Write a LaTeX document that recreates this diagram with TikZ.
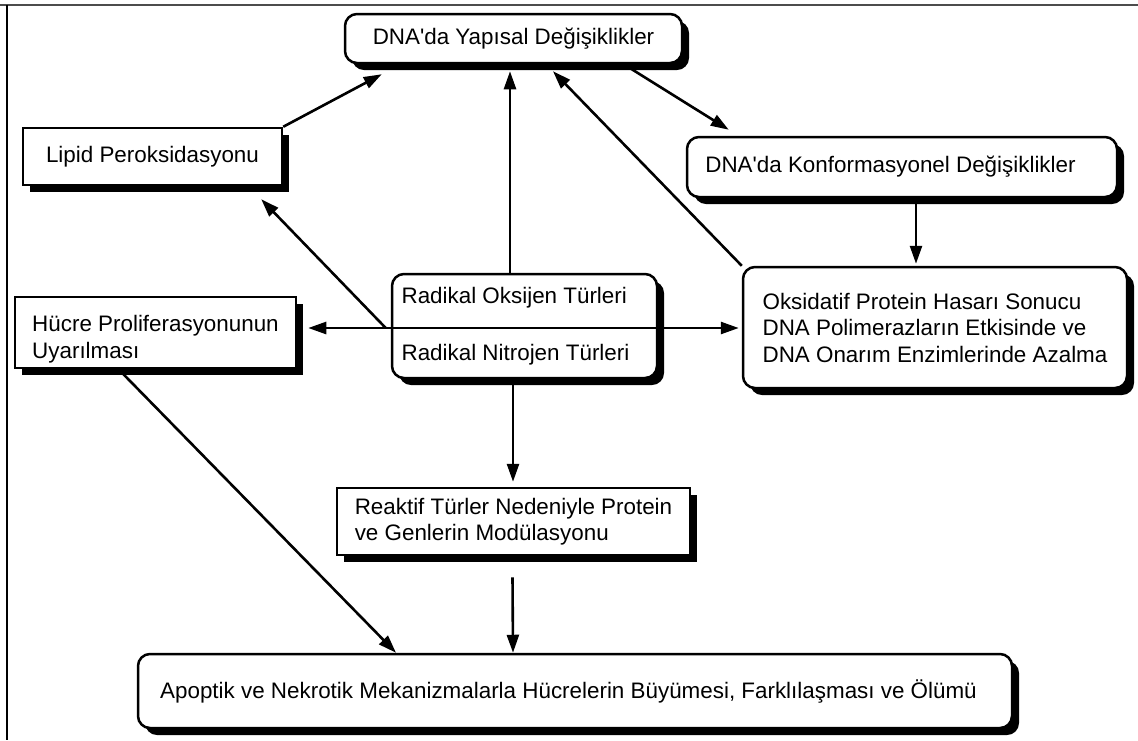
\documentclass[tikz,border=0pt]{standalone}
\usepackage{fontspec}
\setmainfont{Liberation Sans}[Ligatures=TeXOff]
\usetikzlibrary{shadows,arrows.meta,calc}
\begin{document}
\begin{tikzpicture}[x=1pt,y=-1pt,
  every node/.style={font=\fontsize{22.4}{26.5}\selectfont, inner sep=0pt},
  bx/.style={draw=black, line width=2.5pt, fill=white,
    drop shadow={shadow xshift=7pt, shadow yshift=-7pt, opacity=1, fill=black}},
  rbx/.style={bx, rounded corners=12pt},
  tip/.tip={Triangle[length=18pt,width=12pt]},
  conn/.style={line width=2.6pt, -tip},
  bothconn/.style={line width=2.6pt, tip-tip},
]
\useasboundingbox (0,0) rectangle (1138,740);
% frame
\draw[line width=2pt, black!70] (0,5) -- (1138,5);
\draw[line width=1.5pt] (7,5) -- (7,740);

% boxes
\node[rbx, minimum width=337pt, minimum height=49pt] (A) at (513.5,38.5) {DNA'da Yapısal Değişiklikler};
\node[bx, minimum width=259pt, minimum height=57pt] (B) at (152.5,156.5) {Lipid Peroksidasyonu};
\node[rbx, minimum width=430pt, minimum height=60pt] (C) at (902,167) {\kern-23pt DNA'da Konformasyonel Değişiklikler};
\node[rbx, minimum width=265pt, minimum height=104pt, align=left] (D) at (524.5,326) {\kern-18pt Radikal Oksijen Türleri\\[30pt]\kern-18pt Radikal Nitrojen Türleri};
\node[bx, minimum width=281pt, minimum height=71pt, align=left] (E) at (155.5,332.5) {\rule{0pt}{30pt}Hücre Proliferasyonunun\\Uyarılması};
\node[rbx, minimum width=384pt, minimum height=121pt, align=left] (F) at (935,327.5) {Oksidatif Protein Hasarı Sonucu\\DNA Polimerazların Etkisinde ve\\DNA Onarım Enzimlerinde Azalma};
\node[bx, minimum width=353pt, minimum height=67pt, align=left] (G) at (513.5,521.5) {Reaktif Türler Nedeniyle Protein\\ve Genlerin Modülasyonu};
\node[rbx, minimum width=874pt, minimum height=74pt] (H) at (575,691) {\kern-13pt Apoptik ve Nekrotik Mekanizmalarla Hücrelerin Büyümesi, Farklılaşması ve Ölümü};

% connectors
\draw[conn] (B.north east) -- ($(A.south west)+(38,10)$);
\draw[conn] ($(D.north)+(-14.5,0)$) -- ($(A.south)+(-3.5,7)$);
\draw[conn] (F.north west) -- ($(A.south)+(39.5,7)$);
\draw[conn] ($(A.south)+(113.5,2)$) -- ($(C.north west)+(43,-6)$);
\draw[conn] ($(C.south)+(14,0)$) -- ($(F.north)+(-19,-2)$);
\draw[conn] ($(D.west)+(-5,2)$) -- ($(B.south east)+(-22,13)$);
\draw[bothconn] ($(E.east)+(11,-4.5)$) -- ($(F.west)+(-3,0.5)$);
\draw[conn] ($(D.south)+(-11.5,0)$) -- ($(G.north)+(-0.5,-5)$);
\draw[conn] ($(G.south)+(-1,21)$) -- ($(H.north)+(-62,0)$);
\draw[conn] ($(E.south)+(-35,2)$) -- ($(H.north)+(-179,0)$);
\end{tikzpicture}
\end{document}
